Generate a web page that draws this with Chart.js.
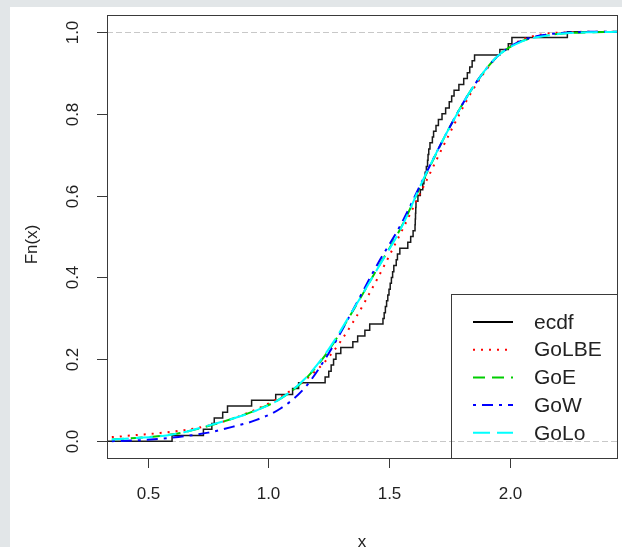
<!DOCTYPE html>
<html>
<head>
<meta charset="utf-8">
<script src="https://cdn.jsdelivr.net/npm/chart.js@4.4.0/dist/chart.umd.min.js"></script>
<style>
  html, body { margin: 0; padding: 0; background: #e2e6e8; }
  .panel { position: absolute; left: 10px; top: 7px; width: 612px; height: 540px; background: #fff; }
  canvas { display: block; }
</style>
</head>
<body>
<div class="panel"><canvas id="myChart" width="612" height="540"></canvas></div>
<script>
// tick labels
const xTicks = [0.5, 1.0, 1.5, 2.0]
const yTicks = [0.0, 0.2, 0.4, 0.6, 0.8, 1.0]
const refLines = [0, 1]

// empirical cdf: jump positions and levels
const ecdfX = [0.30, 0.60, 0.73, 0.765, 0.775, 0.81, 0.83, 0.93, 1.03, 1.10, 1.125,
    1.235, 1.25, 1.26, 1.27, 1.28, 1.30, 1.35, 1.37, 1.40, 1.42,
    1.475, 1.48, 1.485, 1.49, 1.495, 1.50, 1.505, 1.51, 1.515, 1.52, 1.53, 1.535, 1.545,
    1.578, 1.59, 1.60, 1.608, 1.609, 1.61, 1.611, 1.612, 1.62, 1.63, 1.64, 1.645, 1.65,
    1.655, 1.66, 1.662, 1.665, 1.67, 1.68, 1.685, 1.695, 1.705, 1.72, 1.735, 1.75, 1.76,
    1.77, 1.79, 1.81, 1.825, 1.835, 1.845, 1.855, 1.96, 1.995, 2.01, 2.24, 2.50]
const ecdfY = [0, 0.014, 0.029, 0.043, 0.057, 0.071, 0.086, 0.100, 0.114, 0.129, 0.143,
    0.157, 0.171, 0.186, 0.200, 0.214, 0.229, 0.243, 0.257, 0.271, 0.286,
    0.300, 0.314, 0.329, 0.343, 0.357, 0.371, 0.386, 0.400, 0.414, 0.429, 0.443, 0.457, 0.471,
    0.486, 0.500, 0.514, 0.529, 0.543, 0.557, 0.571, 0.586, 0.600, 0.614, 0.629, 0.643, 0.657,
    0.671, 0.686, 0.700, 0.714, 0.729, 0.743, 0.757, 0.771, 0.786, 0.800, 0.814, 0.829, 0.843,
    0.857, 0.871, 0.886, 0.900, 0.914, 0.929, 0.943, 0.957, 0.971, 0.986, 1.000, 1.000]

// fitted cdfs
const gridX = [0.35, 0.45, 0.55, 0.65, 0.75, 0.85, 0.95, 1.05, 1.15, 1.25, 1.35,
    1.45, 1.55, 1.65, 1.75, 1.85, 1.95, 2.05, 2.15, 2.25, 2.35, 2.45]
const golbe = [0.010, 0.015, 0.020, 0.027, 0.038, 0.055, 0.078, 0.108, 0.148, 0.205, 0.290,
    0.395, 0.510, 0.630, 0.750, 0.860, 0.940, 0.980, 0.995, 0.999, 1.000, 1.000]
const goe = [0.004, 0.008, 0.013, 0.022, 0.037, 0.055, 0.076, 0.104, 0.150, 0.222, 0.318,
    0.420, 0.522, 0.647, 0.765, 0.866, 0.940, 0.977, 0.991, 0.997, 0.999, 1.000]
const gow = [0.000, 0.002, 0.006, 0.012, 0.021, 0.035, 0.052, 0.080, 0.130, 0.215, 0.320,
    0.430, 0.530, 0.650, 0.765, 0.866, 0.940, 0.978, 0.993, 0.998, 1.000, 1.000]
const golo = [0.004, 0.008, 0.012, 0.022, 0.038, 0.055, 0.075, 0.104, 0.152, 0.225, 0.320,
    0.419, 0.520, 0.649, 0.765, 0.866, 0.940, 0.976, 0.990, 0.997, 0.999, 1.000]

const legendItems = [
    { label: 'ecdf', color: '#000000', dash: [] },
    { label: 'GoLBE', color: '#ff0000', dash: [2, 6] },
    { label: 'GoE', color: '#00cd00', dash: [12, 7] },
    { label: 'GoW', color: '#0000ff', dash: [3, 6, 11, 6] },
    { label: 'GoLo', color: '#00ffff', dash: [17, 7] }
]

const toPoints = (xs, ys) => xs.map((v, i) => ({ x: v, y: ys[i] }))

const curve = (label, ys, color, dash, order) => ({
    label: label,
    data: toPoints(gridX, ys),
    borderColor: color,
    borderWidth: 2,
    borderDash: dash,
    cubicInterpolationMode: 'monotone',
    pointRadius: 0,
    fill: false,
    order: order
})

const txt = '#222'
const axisCol = '#3a3a3a'

const rPlot = {
    id: 'rPlot',
    beforeDatasetsDraw(chart) {
        const { ctx, chartArea: a, scales: { y } } = chart
        ctx.save()
        ctx.strokeStyle = '#c8c8c8'
        ctx.lineWidth = 1
        ctx.setLineDash([6, 3])
        refLines.forEach(v => {
            const py = Math.round(y.getPixelForValue(v)) + 0.5
            ctx.beginPath()
            ctx.moveTo(a.left, py)
            ctx.lineTo(a.right, py)
            ctx.stroke()
        })
        ctx.restore()
    },
    afterDraw(chart) {
        const { ctx, chartArea: a, scales: { x, y } } = chart
        ctx.save()
        ctx.strokeStyle = axisCol
        ctx.lineWidth = 1
        ctx.setLineDash([])
        ctx.strokeRect(a.left + 0.5, a.top + 0.5, a.right - a.left, a.bottom - a.top)

        ctx.fillStyle = txt
        ctx.font = '17px "Liberation Sans", Arial, sans-serif'
        // x axis
        ctx.textAlign = 'center'
        ctx.textBaseline = 'middle'
        xTicks.forEach(v => {
            const px = Math.round(x.getPixelForValue(v)) + 0.5
            ctx.beginPath()
            ctx.moveTo(px, a.bottom)
            ctx.lineTo(px, a.bottom + 10)
            ctx.stroke()
            ctx.fillText(v.toFixed(1), px, a.bottom + 36)
        })
        // y axis
        yTicks.forEach(v => {
            const py = Math.round(y.getPixelForValue(v)) + 0.5
            ctx.beginPath()
            ctx.moveTo(a.left, py)
            ctx.lineTo(a.left - 10, py)
            ctx.stroke()
            ctx.save()
            ctx.translate(a.left - 34, py)
            ctx.rotate(-Math.PI / 2)
            ctx.fillText(v.toFixed(1), 0, 0)
            ctx.restore()
        })
        ctx.fillText('x', (a.left + a.right) / 2, a.bottom + 84)
        ctx.save()
        ctx.translate(22, (a.top + a.bottom) / 2 + 8)
        ctx.rotate(-Math.PI / 2)
        ctx.fillText('Fn(x)', 0, 0)
        ctx.restore()

        // legend
        const lx = 441, ly = 287
        ctx.strokeRect(lx + 0.5, ly + 0.5, a.right - lx, a.bottom - ly)
        ctx.font = '21px "Liberation Sans", Arial, sans-serif'
        ctx.textAlign = 'left'
        legendItems.forEach((it, i) => {
            const ry = ly + 28 + i * 27.7
            ctx.strokeStyle = it.color
            ctx.lineWidth = 2
            ctx.setLineDash(it.dash)
            ctx.beginPath()
            ctx.moveTo(lx + 22, ry)
            ctx.lineTo(lx + 62, ry)
            ctx.stroke()
            ctx.fillStyle = txt
            ctx.fillText(it.label, lx + 83, ry + 1)
        })
        ctx.restore()
    }
}

const ctx = document.getElementById('myChart')

new Chart(ctx, {
    type: 'line',
    data: {
        datasets: [
            {
                label: 'ecdf',
                data: toPoints(ecdfX, ecdfY),
                borderColor: '#1a1a1a',
                borderWidth: 1.5,
                stepped: 'before',
                pointRadius: 0,
                fill: false,
                order: 5
            },
            curve('GoLBE', golbe, '#ff0000', [2, 6], 4),
            curve('GoE', goe, '#00cd00', [12, 7], 3),
            curve('GoW', gow, '#0000ff', [3, 6, 11, 6], 2),
            curve('GoLo', golo, '#00ffff', [17, 7], 1)
        ]
    },
    options: {
        responsive: false,
        animation: false,
        layout: { padding: { left: 97, top: 8, right: 5, bottom: 89 } },
        plugins: { legend: { display: false }, tooltip: { enabled: false } },
        scales: {
            x: { type: 'linear', display: false, min: 0.33, max: 2.446 },
            y: { type: 'linear', display: false, min: -0.041, max: 1.041 }
        }
    },
    plugins: [rPlot]
})
</script>
</body>
</html>
